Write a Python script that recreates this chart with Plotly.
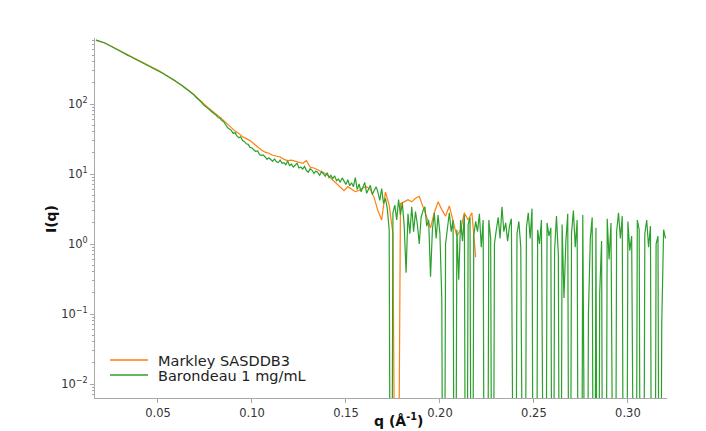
import plotly.graph_objects as go

# ---------------- data ----------------
q_barondeau = [
    0.017, 0.018, 0.019, 0.020, 0.021, 0.022, 0.023, 0.024, 0.025, 0.026,
    0.027, 0.028, 0.029, 0.030, 0.031, 0.032, 0.033, 0.034, 0.035, 0.036,
    0.037, 0.038, 0.039, 0.040, 0.041, 0.042, 0.043, 0.044, 0.045, 0.046,
    0.047, 0.048, 0.049, 0.050, 0.051, 0.052, 0.053, 0.054, 0.055, 0.056,
    0.057, 0.058, 0.059, 0.060, 0.061, 0.062, 0.063, 0.064, 0.065, 0.066,
    0.067, 0.068, 0.069, 0.070, 0.071, 0.072, 0.073, 0.074, 0.075, 0.076,
    0.077, 0.078, 0.079, 0.080, 0.081, 0.082, 0.083, 0.084, 0.085, 0.086,
    0.087, 0.088, 0.089, 0.090, 0.091, 0.092, 0.093, 0.094, 0.095, 0.096,
    0.097, 0.098, 0.099, 0.100, 0.101, 0.102, 0.103, 0.104, 0.105, 0.106,
    0.107, 0.108, 0.109, 0.110, 0.111, 0.112, 0.113, 0.114, 0.115, 0.116,
    0.117, 0.118, 0.119, 0.120, 0.121, 0.122, 0.123, 0.124, 0.125, 0.126,
    0.127, 0.128, 0.129, 0.130, 0.131, 0.132, 0.133, 0.134, 0.135, 0.136,
    0.137, 0.138, 0.139, 0.140, 0.141, 0.142, 0.143, 0.144, 0.145, 0.146,
    0.147, 0.148, 0.149, 0.150, 0.151, 0.152, 0.153, 0.154, 0.155, 0.156,
    0.157, 0.158, 0.159, 0.160, 0.161, 0.162, 0.163, 0.164, 0.165, 0.166,
    0.167, 0.168, 0.169, 0.170, 0.171, 0.172, 0.173, 0.174, 0.175, 0.176,
    0.177, 0.178, 0.179, 0.180, 0.181, 0.182, 0.183, 0.184, 0.185, 0.186,
    0.187, 0.188, 0.189, 0.190, 0.191, 0.192, 0.193, 0.194, 0.195, 0.196,
    0.197, 0.198, 0.199, 0.200, 0.201, 0.202, 0.203, 0.204, 0.205, 0.206,
    0.207, 0.208, 0.209, 0.210, 0.211, 0.212, 0.213, 0.214, 0.215, 0.216,
    0.217, 0.218, 0.219, 0.220, 0.221, 0.222, 0.223, 0.224, 0.225, 0.226,
    0.227, 0.228, 0.229, 0.230, 0.231, 0.232, 0.233, 0.234, 0.235, 0.236,
    0.237, 0.238, 0.239, 0.240, 0.241, 0.242, 0.243, 0.244, 0.245, 0.246,
    0.247, 0.248, 0.249, 0.250, 0.251, 0.252, 0.253, 0.254, 0.255, 0.256,
    0.257, 0.258, 0.259, 0.260, 0.261, 0.262, 0.263, 0.264, 0.265, 0.266,
    0.267, 0.268, 0.269, 0.270, 0.271, 0.272, 0.273, 0.274, 0.275, 0.276,
    0.277, 0.278, 0.279, 0.280, 0.281, 0.282, 0.283, 0.284, 0.285, 0.286,
    0.287, 0.288, 0.289, 0.290, 0.291, 0.292, 0.293, 0.294, 0.295, 0.296,
    0.297, 0.298, 0.299, 0.300, 0.301, 0.302, 0.303, 0.304, 0.305, 0.306,
    0.307, 0.308, 0.309, 0.310, 0.311, 0.312, 0.313, 0.314, 0.315, 0.316,
    0.317, 0.318, 0.319, 0.320,
]
i_barondeau = [
    818, 806, 791, 776, 756, 737, 716, 694, 673, 651,
    629, 606, 585, 563, 546, 527, 513, 495, 481, 466,
    454, 439, 428, 414, 404, 390, 380, 366, 356, 343,
    334, 322, 314, 302, 293, 280, 271, 259, 251, 240,
    233, 223, 216, 206, 199, 189, 182, 172, 166, 157,
    151, 142, 137, 127, 121, 112, 107, 98, 94, 88,
    85, 80, 77, 72, 69, 64, 63, 58, 56, 51,
    46, 44, 42, 38, 39, 35, 33, 34, 30, 29,
    27, 26.5, 24, 23.5, 22, 21, 21.5, 19, 18.5, 18.8,
    17.5, 16.2, 17, 16, 15.2, 16.4, 15, 14.6, 15.8, 14.2,
    14.5, 13.6, 15.3, 13.2, 13.8, 12.6, 13.4, 14.2, 12.2, 12.6,
    11.8, 12.8, 11.2, 10.6, 11.9, 11.3, 10.2, 11.0, 10.5, 9.6,
    10.8, 9.9, 9.3, 10.4, 8.9, 9.6, 8.6, 9.4, 8.0, 8.5,
    7.6, 8.8, 7.9, 7.1, 8.3, 6.8, 7.5, 6.6, 8.9, 6.0,
    7.2, 5.6, 6.4, 7.6, 5.3, 6.1, 6.9, 5.1, 5.8, 6.6,
    5.5, 4.2, 6.2, 3.8, 4.5, 3.2, 1.6, -1.0, 2.8, 3.6,
    2.2, 4.3, 2.6, 3.9, 1.8, 0.39, 2.7, 1.4, 3.4, 1.5,
    2.9, 1.9, 1.0, 2.4, 3.0, 3.4, 1.8, 2.2, 0.34, 1.6,
    2.8, 1.2, 2.6, 1.4, 0.16, -0.8, 1.0, 1.9, 2.8, 1.5,
    2.2, -0.5, 1.6, 0.31, 2.2, 1.1, 2.6, -0.6, 1.9, 2.4,
    -0.9, 1.3, 2.1, 1.5, 2.7, 0.9, 2.2, -0.7, -0.5, 2.2,
    1.2, -1.2, 1.0, 1.6, 2.4, 1.2, 3.4, 1.5, 2.0, 1.1,
    1.8, 2.3, -0.8, -0.4, 1.4, 2.1, 0.9, -1.0, -0.6, 1.7,
    2.8, 1.2, 3.2, -0.5, -0.9, 1.6, 1.0, 2.2, -0.7, -0.3,
    2.0, 1.3, 1.7, -0.6, 0.8, 2.5, 0.7, -1.1, 1.9, 0.17,
    1.1, 2.7, -0.8, 1.4, 3.0, 0.9, 2.2, -0.5, -1.3, 2.6,
    -0.2, -0.9, 0.10, 1.2, 2.4, -0.6, 1.7, -0.8, 0.2, 1.1,
    -1.0, -0.4, 2.3, 0.6, 2.0, -0.7, -0.3, 1.5, 2.8, 1.2,
    2.5, -0.9, -0.5, 2.1, 0.8, 1.3, -1.1, -0.4, 2.2, 1.6,
    -0.8, -0.6, 1.4, 2.2, 0.9, 1.8, -0.2, -0.7, 1.0, 1.3,
    -0.7, 0.07, 1.6, 1.2,
]

q_markley = [
    0.017, 0.019, 0.021, 0.023, 0.025, 0.027, 0.029, 0.031, 0.033, 0.035,
    0.037, 0.039, 0.041, 0.043, 0.045, 0.047, 0.049, 0.051, 0.053, 0.055,
    0.057, 0.059, 0.061, 0.063, 0.065, 0.067, 0.069, 0.071, 0.073, 0.075,
    0.077, 0.079, 0.081, 0.083, 0.085, 0.087, 0.089, 0.091, 0.093, 0.095,
    0.097, 0.099, 0.101, 0.103, 0.105, 0.107, 0.109, 0.111, 0.113, 0.115,
    0.117, 0.119, 0.121, 0.123, 0.125, 0.127, 0.129, 0.131, 0.133, 0.135,
    0.137, 0.139, 0.141, 0.143, 0.145, 0.147, 0.149, 0.151, 0.153, 0.155,
    0.157, 0.159, 0.161, 0.163, 0.165, 0.167, 0.169, 0.171, 0.173, 0.175,
    0.177, 0.179, 0.181, 0.183, 0.185, 0.187, 0.189, 0.191, 0.193, 0.195,
    0.197, 0.199, 0.201, 0.203, 0.205, 0.207, 0.209, 0.211, 0.213, 0.215,
    0.217, 0.219,
]
i_markley = [
    818, 792, 757, 716, 673, 629, 585, 546, 513, 481,
    454, 428, 404, 380, 356, 334, 314, 293, 271, 251,
    233, 216, 199, 182, 166, 152, 137, 122, 108, 96,
    87, 79, 72, 65, 58, 52, 46, 41, 38, 34,
    32, 30, 27, 24, 22, 20.5, 19.8, 18.5, 17.8, 17.5,
    16.2, 15.5, 15.8, 15.2, 14.6, 14.2, 15.5, 12.5, 12.2, 11.5,
    10.8, 10.2, 9.2, 8.2, 7.2, 6.5, 5.8, 6.6, 6.0, 5.6,
    5.8, 6.3, 6.6, 6.0, 4.6, 3.0, 2.2, 5.5, 3.6, 1.4,
    -0.8, 3.8, 4.0, 4.3, 4.0, 4.5, 4.8, 3.4, 2.4, 1.7,
    2.8, 4.0, 3.1, 2.5, 3.5, 2.2, 1.3, 1.6, 2.8, 2.2,
    2.8, 0.65,
]

series_names = ["Markley SASDDB3", "Barondeau 1 mg/mL"]
series_colors = ["#ff7f0e", "#2ca02c"]

y_tick_vals = [0.01, 0.1, 1, 10, 100]
y_tick_text = ["10<sup>−2</sup>", "10<sup>−1</sup>", "10<sup>0</sup>",
               "10<sup>1</sup>", "10<sup>2</sup>"]
x_tick_vals = [0.05, 0.10, 0.15, 0.20, 0.25, 0.30]
x_tick_text = ["0.05", "0.10", "0.15", "0.20", "0.25", "0.30"]

assert len(q_barondeau) == len(i_barondeau)
assert len(q_markley) == len(i_markley)


def clip_nonpositive(vals):
    # like matplotlib's log scale: non-positive values are clipped to a tiny value
    return [v if v > 0 else 1e-8 for v in vals]


FONT = "DejaVu Sans"
AXIS_GREY = "#a8a8a8"

fig = go.Figure()
for q, inten, name, color in [
    (q_markley, i_markley, series_names[0], series_colors[0]),
    (q_barondeau, i_barondeau, series_names[1], series_colors[1]),
]:
    fig.add_trace(go.Scatter(
        x=q, y=clip_nonpositive(inten), mode="lines", name=name,
        line=dict(color=color, width=1.2), showlegend=False,
    ))

minor_vals = [m * 10 ** e for e in range(-3, 3) for m in range(2, 10)]

# legend drawn matplotlib-style (compact rows) in paper coordinates
legend_shapes = []
legend_annotations = []
legend_rows_y = [0.1056, 0.0639]
for name, color, yy in zip(series_names, series_colors, legend_rows_y):
    legend_shapes.append(dict(
        type="line", xref="paper", yref="paper", x0=0.0262, x1=0.0927,
        y0=yy, y1=yy, line=dict(color=color, width=1.5)))
    legend_annotations.append(dict(
        text=name, xref="paper", yref="paper", x=0.1066, y=yy - 0.002,
        xanchor="left", yanchor="middle", showarrow=False,
        font=dict(family=FONT, size=14.5, color="#222222")))

fig.update_layout(
    width=706, height=431,
    margin=dict(l=95, r=39, t=38, b=33),
    paper_bgcolor="white", plot_bgcolor="white",
    font=dict(family=FONT, size=12, color="#333333"),
    showlegend=False,
    xaxis=dict(
        range=[0.0165, 0.3208], showgrid=False, zeroline=False,
        showline=True, linecolor=AXIS_GREY, linewidth=1, mirror=False,
        ticks="outside", ticklen=4, tickcolor=AXIS_GREY,
        tickvals=x_tick_vals, ticktext=x_tick_text,
        tickfont=dict(size=11.5, color="#333333"),
    ),
    yaxis=dict(
        type="log", range=[-2.2, 2.943], showgrid=False, zeroline=False,
        showline=True, linecolor=AXIS_GREY, linewidth=1, mirror=False,
        ticks="outside", ticklen=4, tickcolor=AXIS_GREY,
        tickvals=y_tick_vals, ticktext=y_tick_text,
        tickfont=dict(size=11.5, color="#333333"),
        minor=dict(ticks="outside", ticklen=2, tickcolor=AXIS_GREY,
                   tickvals=minor_vals, showgrid=False),
    ),
    shapes=legend_shapes,
    annotations=[
        dict(text="<b>q (Å<sup>-1</sup>)</b>", xref="paper", yref="paper",
             x=0.53, y=-0.061, xanchor="center", yanchor="middle",
             showarrow=False, font=dict(family=FONT, size=14, color="#111111")),
        dict(text="<b>I(q)</b>", xref="paper", yref="paper",
             x=-0.077, y=0.497, xanchor="center", yanchor="middle",
             textangle=-90, showarrow=False,
             font=dict(family=FONT, size=14, color="#111111")),
    ] + legend_annotations,
)

fig.write_html(
    "out.html",
    config={"displayModeBar": False},
    post_script="document.body.style.margin='0px';document.body.style.overflow='hidden';",
)
